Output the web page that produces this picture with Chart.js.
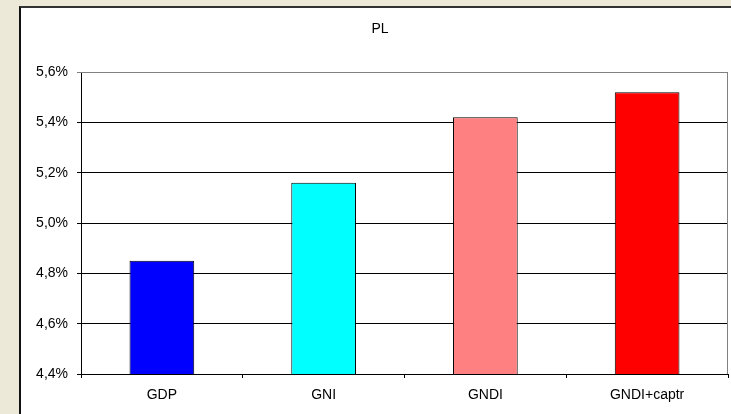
<!DOCTYPE html>
<html>
<head>
<meta charset="utf-8">
<script src="https://cdn.jsdelivr.net/npm/chart.js@4"></script>
<style>
    html, body { margin: 0; padding: 0; background: #ECE9D8; width: 731px; height: 414px; overflow: hidden; }
    #frame { position: absolute; left: 19px; top: 6px; width: 720px; height: 420px; background: #fff; border-left: 2px solid #111; border-top: 2px solid #333; }
    #chart { position: absolute; left: 0; top: 0; }
</style>
</head>
<body>
<div id="frame"></div>
<canvas id="chart" width="731" height="414"></canvas>
<script>
// chart data
const title = 'PL';
const categories = ['GDP', 'GNI', 'GNDI', 'GNDI+captr'];
const values = [4.85, 5.16, 5.42, 5.52];
const barColors = ['#0000FF', '#00FFFF', '#FF8080', '#FF0000'];
const yMin = 4.4;
const yMax = 5.6;
const yStep = 0.2;

// gray border on top and right of the plot area
const plotFrame = {
    id: 'plotFrame',
    beforeDatasetsDraw(chart) {
        const { ctx, chartArea } = chart;
        ctx.save();
        ctx.strokeStyle = '#808080';
        ctx.lineWidth = 1;
        ctx.beginPath();
        ctx.moveTo(chartArea.left, Math.round(chartArea.top) + 0.5);
        ctx.lineTo(Math.round(chartArea.right) - 0.5, Math.round(chartArea.top) + 0.5);
        ctx.lineTo(Math.round(chartArea.right) - 0.5, chartArea.bottom);
        ctx.stroke();
        ctx.restore();
    }
};

Chart.defaults.font.family = '"Liberation Sans", Arial, sans-serif';
Chart.defaults.font.size = 14;
Chart.defaults.color = '#000';

new Chart(document.getElementById('chart'), {
    type: 'bar',
    data: {
        labels: categories,
        datasets: [{
            data: values,
            backgroundColor: barColors,
            borderColor: '#000',
            borderWidth: 1,
            barPercentage: 0.4,
            categoryPercentage: 1.0
        }]
    },
    options: {
        responsive: false,
        animation: false,
        devicePixelRatio: 1,
        layout: { padding: { left: 32, right: 3, top: 21, bottom: 0 } },
        plugins: {
            legend: { display: false },
            tooltip: { enabled: false },
            title: {
                display: true,
                text: title,
                color: '#000',
                font: { size: 14, weight: 'normal' },
                padding: { top: 0, bottom: 34.2 }
            }
        },
        scales: {
            x: {
                grid: { display: true, drawOnChartArea: false, drawTicks: true, tickLength: 4, color: '#000', offset: true },
                border: { color: '#000', width: 1 },
                ticks: { padding: 9, color: '#000', maxRotation: 0, autoSkip: false },
                afterFit(scale) { scale.height = 40; }
            },
            y: {
                min: yMin,
                max: yMax,
                grid: {
                    color: (c) => c.index === 6 ? '#808080' : '#000',
                    tickLength: 4,
                    drawTicks: true
                },
                border: { color: '#000', width: 1 },
                ticks: {
                    stepSize: yStep,
                    padding: 9,
                    color: '#000',
                    callback: (v) => v.toFixed(1).replace('.', ',') + '%'
                },
                afterFit(scale) { scale.width = 49; }
            }
        }
    },
    plugins: [plotFrame]
});
</script>
</body>
</html>
